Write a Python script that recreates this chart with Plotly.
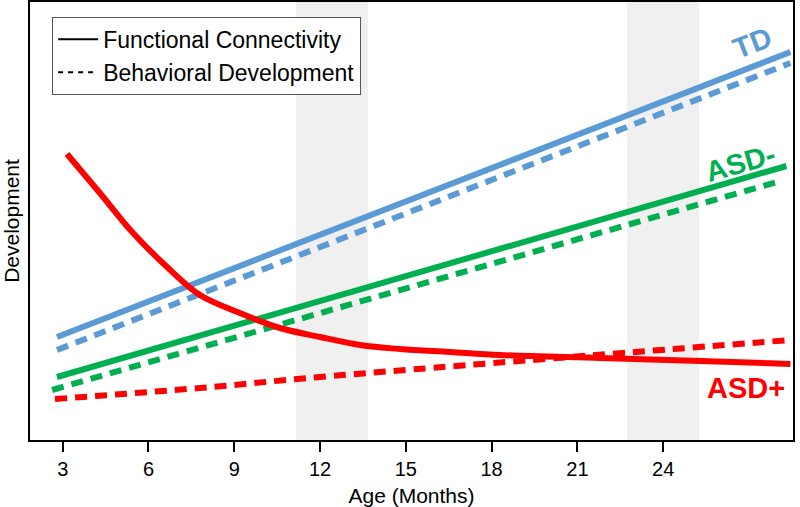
import plotly.graph_objects as go

FONT = "Arial, Liberation Sans, Helvetica, sans-serif"

# x in months, y in arbitrary development units
td_fc_x = [2.80, 28.45]
td_fc_y = [103, 388]
td_bd_x = [2.80, 28.45]
td_bd_y = [90, 377]

asdm_fc_x = [2.80, 28.31]
asdm_fc_y = [63, 274]
asdm_bd_x = [2.63, 28.10]
asdm_bd_y = [50, 259]

asdp_fc_x = [3.15, 4.30, 5.46, 6.65, 7.80, 9.20, 10.60, 12.00, 13.40, 14.80,
             16.55, 18.30, 21.80, 25.30, 28.45]
asdp_fc_y = [286, 247, 207, 173, 145, 127, 112, 103, 95, 91, 88, 85, 82, 79, 76]
asdp_bd_x = [2.73, 7.80, 12.00, 28.45]
asdp_bd_y = [41, 52, 63, 100]

band_starts = [11.16, 22.74]
band_ends = [13.68, 25.26]

tick_vals = [3, 6, 9, 12, 15, 18, 21, 24]
tick_text = ["3", "6", "9", "12", "15", "18", "21", "24"]

BLUE = "#5B9BD5"
GREEN = "#00B050"
RED = "#FF0000"
DASH = "12px,8px"
LW = 6

fig = go.Figure()

for x0, x1 in zip(band_starts, band_ends):
    fig.add_vrect(x0=x0, x1=x1, fillcolor="#F0F0F0", line_width=0, layer="below")

def add(x, y, color, dash, shape="linear"):
    fig.add_trace(go.Scatter(x=x, y=y, mode="lines", showlegend=False, hoverinfo="skip",
                             line=dict(color=color, width=LW, dash=dash, shape=shape,
                                       smoothing=1.0)))

add(td_fc_x, td_fc_y, BLUE, "solid")
add(td_bd_x, td_bd_y, BLUE, DASH)
add(asdm_fc_x, asdm_fc_y, GREEN, "solid")
add(asdm_bd_x, asdm_bd_y, GREEN, DASH)
add(asdp_bd_x, asdp_bd_y, RED, DASH, "spline")
add(asdp_fc_x, asdp_fc_y, RED, "solid", "spline")

# legend entries
fig.add_trace(go.Scatter(x=[None], y=[None], mode="lines", name="Functional Connectivity",
                         line=dict(color="black", width=2)))
fig.add_trace(go.Scatter(x=[None], y=[None], mode="lines", name="Behavioral Development",
                         line=dict(color="black", width=2, dash="5px,5px")))

labels = [("TD", 27.11, 397, BLUE, -21), ("ASD-", 26.69, 277, GREEN, -16),
          ("ASD+", 26.9, 52, RED, 0)]
for txt, x, y, c, ang in labels:
    fig.add_annotation(x=x, y=y, text="<b>%s</b>" % txt, showarrow=False,
                       textangle=ang, font=dict(family=FONT, size=29, color=c))

fig.update_layout(
    width=800, height=507,
    margin=dict(l=30, r=7, t=2, b=67),
    plot_bgcolor="white", paper_bgcolor="white",
    font=dict(family=FONT, color="black"),
    legend=dict(x=0.029, y=0.966, xanchor="left", yanchor="top",
                bordercolor="#555", borderwidth=1, bgcolor="white",
                font=dict(family=FONT, size=23, color="black"),
                tracegroupgap=0, itemwidth=40),
)
fig.update_xaxes(range=[1.856, 28.54], tickvals=tick_vals, ticktext=tick_text,
                 ticks="outside", ticklen=10, tickwidth=2, tickcolor="black",
                 showline=True, linecolor="black", linewidth=2, mirror=True,
                 showgrid=False, zeroline=False, automargin=False,
                 tickfont=dict(family=FONT, size=20, color="black"),
                 title=dict(text="Age (Months)", font=dict(family=FONT, size=21)))
fig.update_yaxes(range=[0, 438], showticklabels=False, ticks="",
                 showline=True, linecolor="black", linewidth=2, mirror=True,
                 showgrid=False, zeroline=False, automargin=False,
                 title=dict(text="Development", font=dict(family=FONT, size=21)))

fig.write_html("out.html", config={"displayModeBar": False},
               post_script="document.body.style.margin='0';document.body.style.padding='0';")
